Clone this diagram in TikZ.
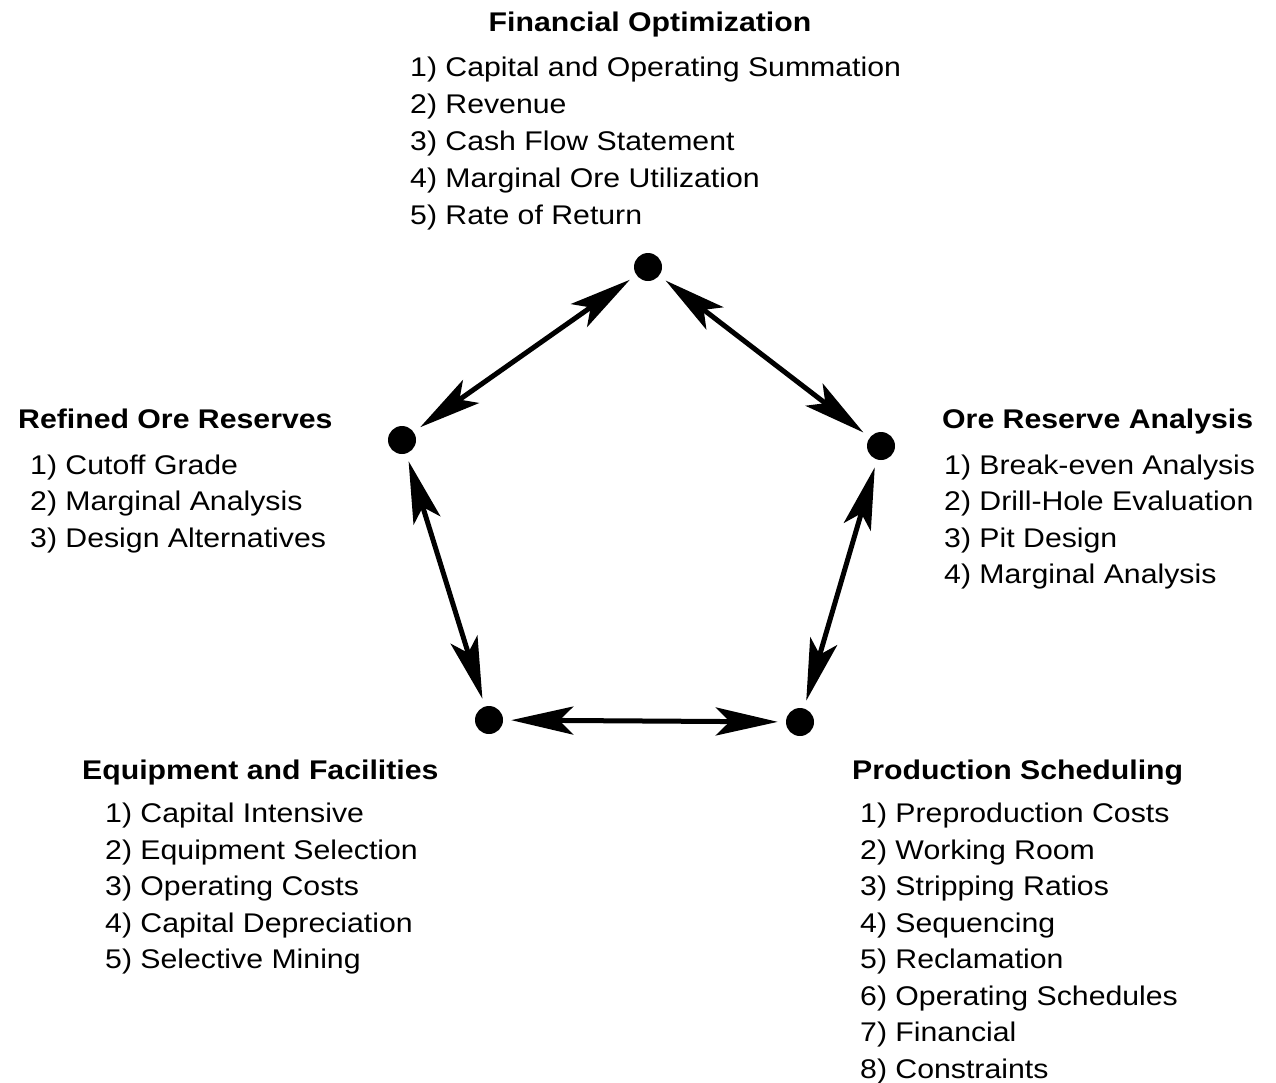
\documentclass[tikz,border=0pt]{standalone}
\usepackage{fontspec}
\setmainfont[FakeStretch=1.12]{Liberation Sans}
\usetikzlibrary{arrows.meta}

\tikzset{
  dot/.style={circle, fill=black, inner sep=0pt, minimum size=28pt},
  tip/.tip={Stealth[length=62pt,width=28pt,inset=14pt]},
  link/.style={line width=5pt, tip-tip, shorten <=8pt, shorten >=8pt},
  head/.style={font=\fontsize{27}{33}\selectfont\bfseries, inner sep=0pt},
  item/.style={font=\fontsize{27}{33}\selectfont, inner sep=0pt, anchor=base west},
}

\begin{document}
\begin{tikzpicture}[x=1pt, y=-1pt]
\useasboundingbox (0,0) rectangle (1276,1082);
\clip (0,0) rectangle (1276,1082);

% the five stages
\node[dot] (fin) at (648,267) {};
\node[dot] (ore) at (881,446) {};
\node[dot] (prod) at (800,722) {};
\node[dot] (equip) at (489,720) {};
\node[dot] (refined) at (402,440) {};

\draw[link] (refined) -- (fin);
\draw[link] (fin) -- (ore);
\draw[link] (ore) -- (prod);
\draw[link] (equip) -- (prod);
\draw[link] (refined) -- (equip);

% Financial Optimization
\node[head, anchor=base] (fin-head) at (650,31) {Financial Optimization};
\foreach \txt [count=\i] in {Capital and Operating Summation, Revenue, Cash Flow Statement, Marginal Ore Utilization, Rate of Return}
  \node[item] (fin-\i) at (410, 40+36.8*\i) {\i) \txt};

% Refined Ore Reserves
\node[head, anchor=base west] (refined-head) at (18,428) {Refined Ore Reserves};
\foreach \txt [count=\i] in {Cutoff Grade, Marginal Analysis, Design Alternatives}
  \node[item] (refined-\i) at (30, 437.5+36.5*\i) {\i) \txt};

% Ore Reserve Analysis
\node[head, anchor=base west] (ore-head) at (942,428) {Ore Reserve Analysis};
\foreach \txt [count=\i] in {Break-even Analysis, Drill-Hole Evaluation, Pit Design, Marginal Analysis}
  \node[item] (ore-\i) at (944, 437.5+36.5*\i) {\i) \txt};

% Equipment and Facilities
\node[head, anchor=base west] (equip-head) at (82,779) {Equipment and Facilities};
\foreach \txt [count=\i] in {Capital Intensive, Equipment Selection, Operating Costs, Capital Depreciation, Selective Mining}
  \node[item] (equip-\i) at (105, 786+36.5*\i) {\i) \txt};

% Production Scheduling
\node[head, anchor=base west] (prod-head) at (852,779) {Production Scheduling};
\foreach \txt [count=\i] in {Preproduction Costs, Working Room, Stripping Ratios, Sequencing, Reclamation, Operating Schedules, Financial, Constraints}
  \node[item] (prod-\i) at (860, 786+36.5*\i) {\i) \txt};
\end{tikzpicture}
\end{document}
